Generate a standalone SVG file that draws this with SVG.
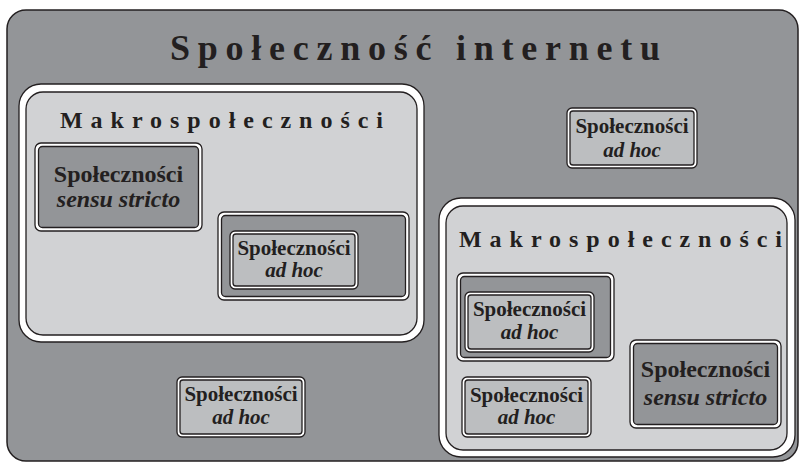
<svg xmlns="http://www.w3.org/2000/svg" width="803" height="465" viewBox="0 0 803 465">
<style>
.o{fill:#ffffff;stroke:#231f20;stroke-width:1.3}
.bg{fill:#939598;stroke:#231f20;stroke-width:1.5}
.mk{fill:#d1d2d4;stroke:#231f20;stroke-width:1.3}
.ah{fill:#bcbec0;stroke:#231f20;stroke-width:1.3}
.dk{fill:#939598;stroke:#231f20;stroke-width:1.3}
text{font-family:'Liberation Serif','DejaVu Serif',serif;fill:#231f20;font-weight:bold}
.t1{font-size:36px}
.t2{font-size:24px}
.a{font-size:21px;text-anchor:middle}
.s{font-size:24px;text-anchor:middle}
.i{font-style:italic}
</style>
<g id="spolecznosc-internetu">
<rect class="bg" x="7" y="10" width="791" height="451" rx="19"/>
<text class="t1" x="170" y="60" textLength="490" lengthAdjust="spacing">Społeczność internetu</text>
</g>
<g id="makro-1">
<rect class="o" x="19" y="84" width="405" height="258" rx="22"/>
<rect class="mk" x="26" y="92" width="391" height="243" rx="17"/>
<text class="t2" x="60" y="128" textLength="323" lengthAdjust="spacing">Makrospołeczności</text>
</g>
<g id="makro-2">
<rect class="o" x="439" y="198" width="356" height="259" rx="22"/>
<rect class="mk" x="446" y="206" width="341" height="244" rx="17"/>
<text class="t2" x="459" y="247" textLength="323" lengthAdjust="spacing">Makrospołeczności</text>
</g>
<g id="sensu-stricto-1">
<rect class="o" x="35" y="143" width="167" height="88" rx="6"/>
<rect class="dk" x="38.5" y="146.5" width="160" height="81" rx="4"/>
<text class="s" x="118.5" y="182">Społeczności</text>
<text class="s i" x="118.5" y="207">sensu stricto</text>
</g>
<g id="ad-hoc-frame-1">
<rect class="o" x="218" y="212" width="191" height="88" rx="6"/>
<rect class="dk" x="221.5" y="215.5" width="184" height="81" rx="4"/>
</g>
<g id="ad-hoc-1">
<rect class="o" x="230" y="231" width="128" height="58" rx="5"/>
<rect class="ah" x="233" y="234" width="122" height="52" rx="3"/>
<text class="a" x="294" y="255">Społeczności</text>
<text class="a i" x="294" y="277">ad hoc</text>
</g>
<g id="ad-hoc-2">
<rect class="o" x="567" y="108" width="130" height="60" rx="5"/>
<rect class="ah" x="570" y="111" width="124" height="54" rx="3"/>
<text class="a" x="632" y="133">Społeczności</text>
<text class="a i" x="632" y="157">ad hoc</text>
</g>
<g id="ad-hoc-3">
<rect class="o" x="177" y="377" width="128" height="60" rx="5"/>
<rect class="ah" x="180" y="380" width="122" height="54" rx="3"/>
<text class="a" x="241" y="401">Społeczności</text>
<text class="a i" x="241" y="424">ad hoc</text>
</g>
<g id="ad-hoc-frame-2">
<rect class="o" x="457" y="273" width="157" height="88" rx="6"/>
<rect class="dk" x="460.5" y="276.5" width="150" height="81" rx="4"/>
</g>
<g id="ad-hoc-4">
<rect class="o" x="465" y="292" width="129" height="60" rx="5"/>
<rect class="ah" x="468" y="295" width="123" height="54" rx="3"/>
<text class="a" x="529.5" y="316">Społeczności</text>
<text class="a i" x="529.5" y="339">ad hoc</text>
</g>
<g id="ad-hoc-5">
<rect class="o" x="462" y="377" width="129" height="60" rx="5"/>
<rect class="ah" x="465" y="380" width="123" height="54" rx="3"/>
<text class="a" x="526.5" y="402">Społeczności</text>
<text class="a i" x="526.5" y="424">ad hoc</text>
</g>
<g id="sensu-stricto-2">
<rect class="o" x="630" y="340" width="151" height="88" rx="6"/>
<rect class="dk" x="633.5" y="343.5" width="144" height="81" rx="4"/>
<text class="s" x="705.5" y="377">Społeczności</text>
<text class="s i" x="705.5" y="405">sensu stricto</text>
</g>
<g id="connectors"/>
</svg>
